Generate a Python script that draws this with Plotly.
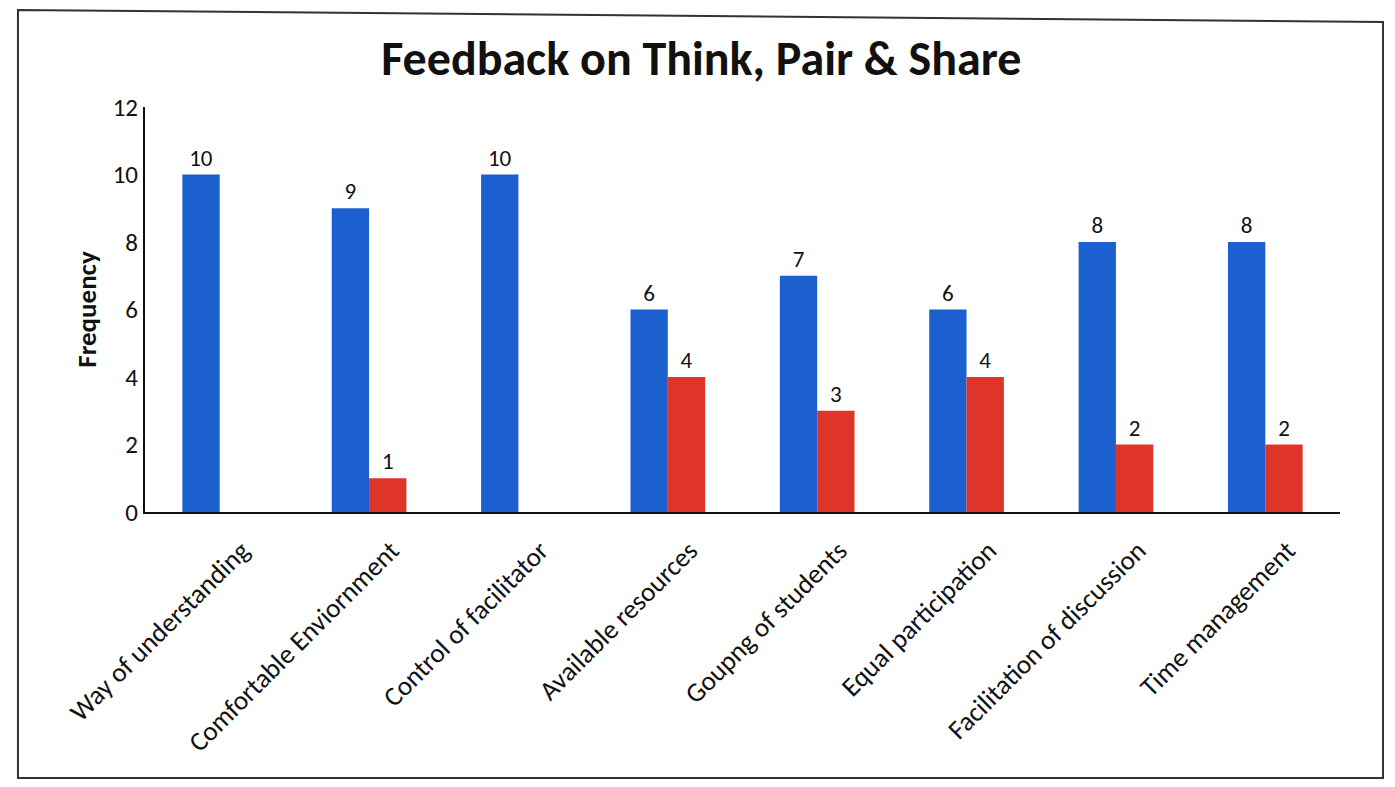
import plotly.graph_objects as go

categories = [
    "Way of understanding", "Comfortable Enviornment", "Control of facilitator",
    "Available resources", "Goupng of students", "Equal participation",
    "Facilitation of discussion", "Time management",
]
blue_values = [10, 9, 10, 6, 7, 6, 8, 8]
red_values = [None, 1, None, 4, 3, 4, 2, 2]

BLUE = "#1c5fcf"
RED = "#df3529"
FONT = "Carlito, Lato, sans-serif"

W, H = 1395, 787
L, R, T, B = 137, 63, 99, 283
OFF = 8  # page body margin


def px_to_paper(x, y):
    """Convert a pixel position on the page into paper coordinates"""
    x, y = x - OFF, y - OFF
    return (x - L) / (W - L - R), (H - B - y) / (H - T - B)


fig = go.Figure()
for vals, color in [(blue_values, BLUE), (red_values, RED)]:
    fig.add_trace(go.Bar(
        x=categories,
        y=vals,
        marker=dict(color=color, line=dict(width=0)),
        text=[v if v is not None else "" for v in vals],
        textposition="outside",
        textfont=dict(size=23, color="#111111", family=FONT),
        cliponaxis=False,
    ))

# scanned page frame (slightly skewed top edge)
corners = [px_to_paper(*p) for p in [(18, 10), (1383, 22), (1383, 778), (18, 778)]]
path = "M " + " L ".join(f"{x:.4f},{y:.4f}" for x, y in corners) + " Z"

fig.update_layout(
    width=W, height=H,
    margin=dict(l=L, r=R, t=T, b=B),
    paper_bgcolor="white",
    plot_bgcolor="white",
    showlegend=False,
    barmode="group",
    bargap=0.5,
    bargroupgap=0,
    font=dict(family=FONT, color="#111111"),
    title=dict(
        text="<b>Feedback on Think, Pair & Share</b>",
        xref="container", x=0.497, xanchor="center",
        yref="container", y=0.936, yanchor="middle",
        font=dict(size=48, family=FONT, color="#111111"),
    ),
    xaxis=dict(
        tickangle=-45,
        tickfont=dict(size=27, family=FONT),
        ticklabelshift=22,
        ticklabelstandoff=10,
        showline=True, linecolor="#111111", linewidth=2,
        showgrid=False, ticks="",
    ),
    yaxis=dict(
        range=[0, 12],
        dtick=2,
        tickfont=dict(size=25, family=FONT),
        showline=True, linecolor="#111111", linewidth=2,
        showgrid=False, zeroline=False, ticks="",
        title=dict(text="<b>Frequency</b>", font=dict(size=27, family=FONT), standoff=8),
    ),
    shapes=[dict(
        type="path", xref="paper", yref="paper", path=path,
        line=dict(color="#333333", width=2),
    )],
)

fig.write_html("out.html")
